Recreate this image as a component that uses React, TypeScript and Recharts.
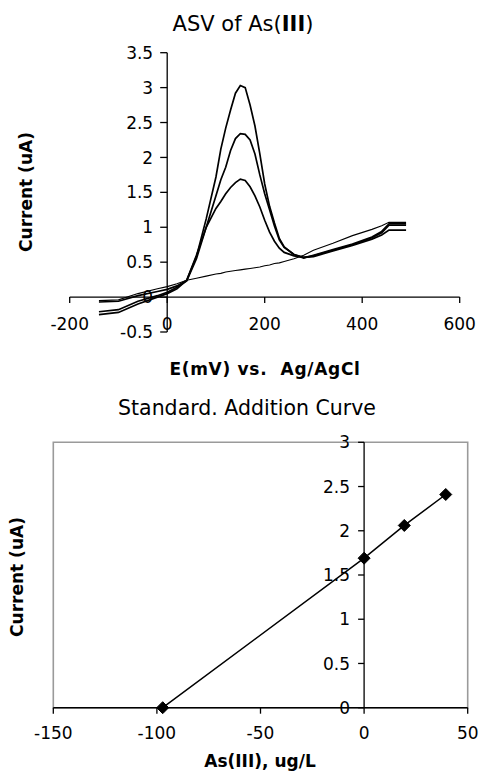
import React from 'react';
import {
  LineChart,
  Line,
  XAxis,
  YAxis,
  ReferenceLine,
  ReferenceDot,
  ReferenceArea,
} from 'recharts';

const FONT = '"DejaVu Sans", sans-serif';

// ---- Top chart: ASV of As(III) ----
const potentials = [
  -140, -100, -60, -20, 0, 20, 40, 60, 80, 100, 110, 120, 130, 140, 150, 160, 170, 180, 190, 200,
  210, 220, 230, 240, 260, 280, 300, 340, 380, 420, 440, 455, 490,
];
const blankCurrent = [
  -0.05, -0.04, 0.05, 0.12, 0.15, 0.19, 0.24, 0.27, 0.3, 0.33, 0.34, 0.36, 0.37, 0.38, 0.39, 0.4, 0.41,
  0.42, 0.43, 0.45, 0.46, 0.48, 0.49, 0.51, 0.55, 0.6, 0.67, 0.77, 0.88, 0.97, 1.02, 1.07, 1.07,
];
const lowPeakCurrent = [
  -0.07, -0.06, 0.02, 0.08, 0.11, 0.16, 0.24, 0.6, 1.0, 1.27, 1.37, 1.48, 1.57, 1.64, 1.69, 1.67, 1.58,
  1.45, 1.29, 1.1, 0.93, 0.8, 0.7, 0.64, 0.59, 0.57, 0.58, 0.66, 0.74, 0.83, 0.89, 0.96, 0.96,
];
const midPeakCurrent = [
  -0.21, -0.18, -0.06, 0.02, 0.07, 0.14, 0.23, 0.55, 1.0, 1.45, 1.68, 1.86, 2.1, 2.27, 2.34, 2.33, 2.25,
  2.05, 1.75, 1.48, 1.25, 1.02, 0.82, 0.71, 0.61, 0.57, 0.59, 0.67, 0.75, 0.85, 0.92, 1.03, 1.03,
];
const highPeakCurrent = [
  -0.25, -0.22, -0.1, 0.0, 0.05, 0.12, 0.24, 0.58, 1.12, 1.72, 2.12, 2.42, 2.68, 2.92, 3.03, 3.0, 2.75,
  2.45, 2.05, 1.62, 1.3, 1.06, 0.84, 0.72, 0.61, 0.56, 0.6, 0.68, 0.76, 0.86, 0.94, 1.05, 1.05,
];
const asvXTicks = [-200, 0, 200, 400, 600];
const asvXTickLabels = ['-200', '0', '200', '400', '600'];
const asvYTicks = [-0.5, 0, 0.5, 1, 1.5, 2, 2.5, 3, 3.5];
const asvYTickLabels = ['-0.5', '0', '0.5', '1', '1.5', '2', '2.5', '3', '3.5'];

// ---- Bottom chart: Standard Addition Curve ----
const additionConc = [-97.2, 0, 19.4, 39.4];
const additionCurrent = [0, 1.69, 2.06, 2.41];
const saXTicks = [-150, -100, -50, 0, 50];
const saXTickLabels = ['-150', '-100', '-50', '0', '50'];
const saYTicks = [0, 0.5, 1, 1.5, 2, 2.5, 3];
const saYTickLabels = ['0', '0.5', '1', '1.5', '2', '2.5', '3'];

const asvData = potentials.map((E, i) => ({
  E,
  blank: blankCurrent[i],
  low: lowPeakCurrent[i],
  mid: midPeakCurrent[i],
  high: highPeakCurrent[i],
}));
const saData = additionConc.map((c, i) => ({ c, i: additionCurrent[i] }));

const yTickShape = (label: string, len: number, gap: number) => (p: any) => (
  <g>
    <line x1={p.cx - len} y1={p.cy} x2={p.cx} y2={p.cy} stroke="#000" strokeWidth={1.3} />
    <text
      x={p.cx - gap}
      y={p.cy}
      dy="0.36em"
      textAnchor="end"
      fontSize={17}
      fontFamily={FONT}
      fill="#000"
    >
      {label}
    </text>
  </g>
);

const xTickShape = (label: string, len: number, gap: number) => (p: any) => (
  <g>
    <line x1={p.cx} y1={p.cy} x2={p.cx} y2={p.cy + len} stroke="#000" strokeWidth={1.3} />
    <text
      x={p.cx}
      y={p.cy + gap}
      dy="0.71em"
      textAnchor="middle"
      fontSize={17}
      fontFamily={FONT}
      fill="#000"
    >
      {label}
    </text>
  </g>
);

const Diamond = (p: any) => {
  const { cx, cy, index } = p;
  const s = 6;
  return (
    <polygon
      key={`d-${index}`}
      points={`${cx},${cy - s} ${cx + s},${cy} ${cx},${cy + s} ${cx - s},${cy}`}
      fill="#000"
      stroke="#000"
    />
  );
};

export default function App() {
  return (
    <div style={{ position: 'absolute', left: 0, top: 0, width: 480, height: 773, background: '#fff' }}>
      <div style={{ position: 'absolute', left: 0, top: 0 }}>
        <LineChart
          width={480}
          height={380}
          data={asvData}
          margin={{ top: 52.7, right: 20.3, bottom: 48, left: 69.7 }}
        >
          <XAxis dataKey="E" type="number" domain={[-200, 600]} hide />
          <YAxis type="number" domain={[-0.5, 3.5]} hide allowDataOverflow />
          <ReferenceLine x={0} stroke="#000" strokeWidth={1.3} ifOverflow="visible" />
          <ReferenceLine y={0} stroke="#000" strokeWidth={1.3} ifOverflow="visible" />
          {asvYTicks.map((v, i) => (
            <ReferenceDot
              key={`ay${v}`}
              x={0}
              y={v}
              r={0}
              ifOverflow="visible"
              shape={yTickShape(asvYTickLabels[i], 7, 14)}
            />
          ))}
          {asvXTicks.map((v, i) => (
            <ReferenceDot
              key={`ax${v}`}
              x={v}
              y={0}
              r={0}
              ifOverflow="visible"
              shape={xTickShape(asvXTickLabels[i], 6, 21)}
            />
          ))}
          <Line dataKey="blank" stroke="#000" strokeWidth={1.1} dot={false} isAnimationActive={false} />
          <Line dataKey="low" stroke="#000" strokeWidth={1.7} dot={false} isAnimationActive={false} />
          <Line dataKey="mid" stroke="#000" strokeWidth={1.7} dot={false} isAnimationActive={false} />
          <Line dataKey="high" stroke="#000" strokeWidth={1.7} dot={false} isAnimationActive={false} />
        </LineChart>
      </div>
      <div style={{ position: 'absolute', left: 0, top: 380 }}>
        <LineChart
          width={480}
          height={393}
          data={saData}
          margin={{ top: 62.3, right: 12.3, bottom: 35.3, left: 53.3 }}
        >
          <XAxis
            dataKey="c"
            type="number"
            domain={[-150, 50]}
            ticks={saXTicks}
            tickFormatter={(v: number) => saXTickLabels[saXTicks.indexOf(v)]}
            interval={0}
            height={30}
            tickSize={6}
            tickMargin={13}
            axisLine={false}
            tickLine={{ stroke: '#000', strokeWidth: 1.3 }}
            tick={{ fill: '#000', fontSize: 17, fontFamily: FONT }}
          />
          <YAxis type="number" domain={[0, 3]} hide />
          <ReferenceArea
            x1={-150}
            x2={50}
            y1={0}
            y2={3}
            fill="none"
            fillOpacity={0}
            stroke="#9a9a9a"
            strokeWidth={1.6}
            ifOverflow="visible"
          />
          <ReferenceLine y={0} stroke="#000" strokeWidth={1.4} ifOverflow="visible" />
          <ReferenceLine x={0} stroke="#000" strokeWidth={1.3} ifOverflow="visible" />
          {saYTicks.map((v, i) => (
            <ReferenceDot
              key={`sy${v}`}
              x={0}
              y={v}
              r={0}
              ifOverflow="visible"
              shape={yTickShape(saYTickLabels[i], 6, 14)}
            />
          ))}
          <Line
            dataKey="i"
            stroke="#000"
            strokeWidth={1.5}
            dot={Diamond}
            isAnimationActive={false}
          />
        </LineChart>
      </div>
      <svg
        width={480}
        height={773}
        style={{ position: 'absolute', left: 0, top: 0, pointerEvents: 'none' }}
      >
        <text x={243} y={31} textAnchor="middle" fontSize={21} fontFamily={FONT} fill="#000">
          ASV of As(<tspan fontWeight="bold">III</tspan>)
        </text>
        <text
          transform="translate(26,192) rotate(-90)"
          textAnchor="middle"
          dy="0.36em"
          fontSize={17}
          fontWeight="bold"
          fontFamily={FONT}
          fill="#000"
        >
          Current (uA)
        </text>
        <text
          x={265}
          y={375}
          textAnchor="middle"
          fontSize={17}
          fontWeight="bold"
          fontFamily={FONT}
          fill="#000"
          letterSpacing={0.7}
          style={{ whiteSpace: 'pre' }}
        >
          {'E(mV) vs.  Ag/AgCl'}
        </text>
        <text x={247} y={415} textAnchor="middle" fontSize={20.5} fontFamily={FONT} fill="#000">
          Standard. Addition Curve
        </text>
        <text
          transform="translate(17,577) rotate(-90)"
          textAnchor="middle"
          dy="0.36em"
          fontSize={17}
          fontWeight="bold"
          fontFamily={FONT}
          fill="#000"
        >
          Current (uA)
        </text>
        <text
          x={260}
          y={767}
          textAnchor="middle"
          fontSize={17}
          fontWeight="bold"
          fontFamily={FONT}
          fill="#000"
        >
          As(III), ug/L
        </text>
      </svg>
    </div>
  );
}
